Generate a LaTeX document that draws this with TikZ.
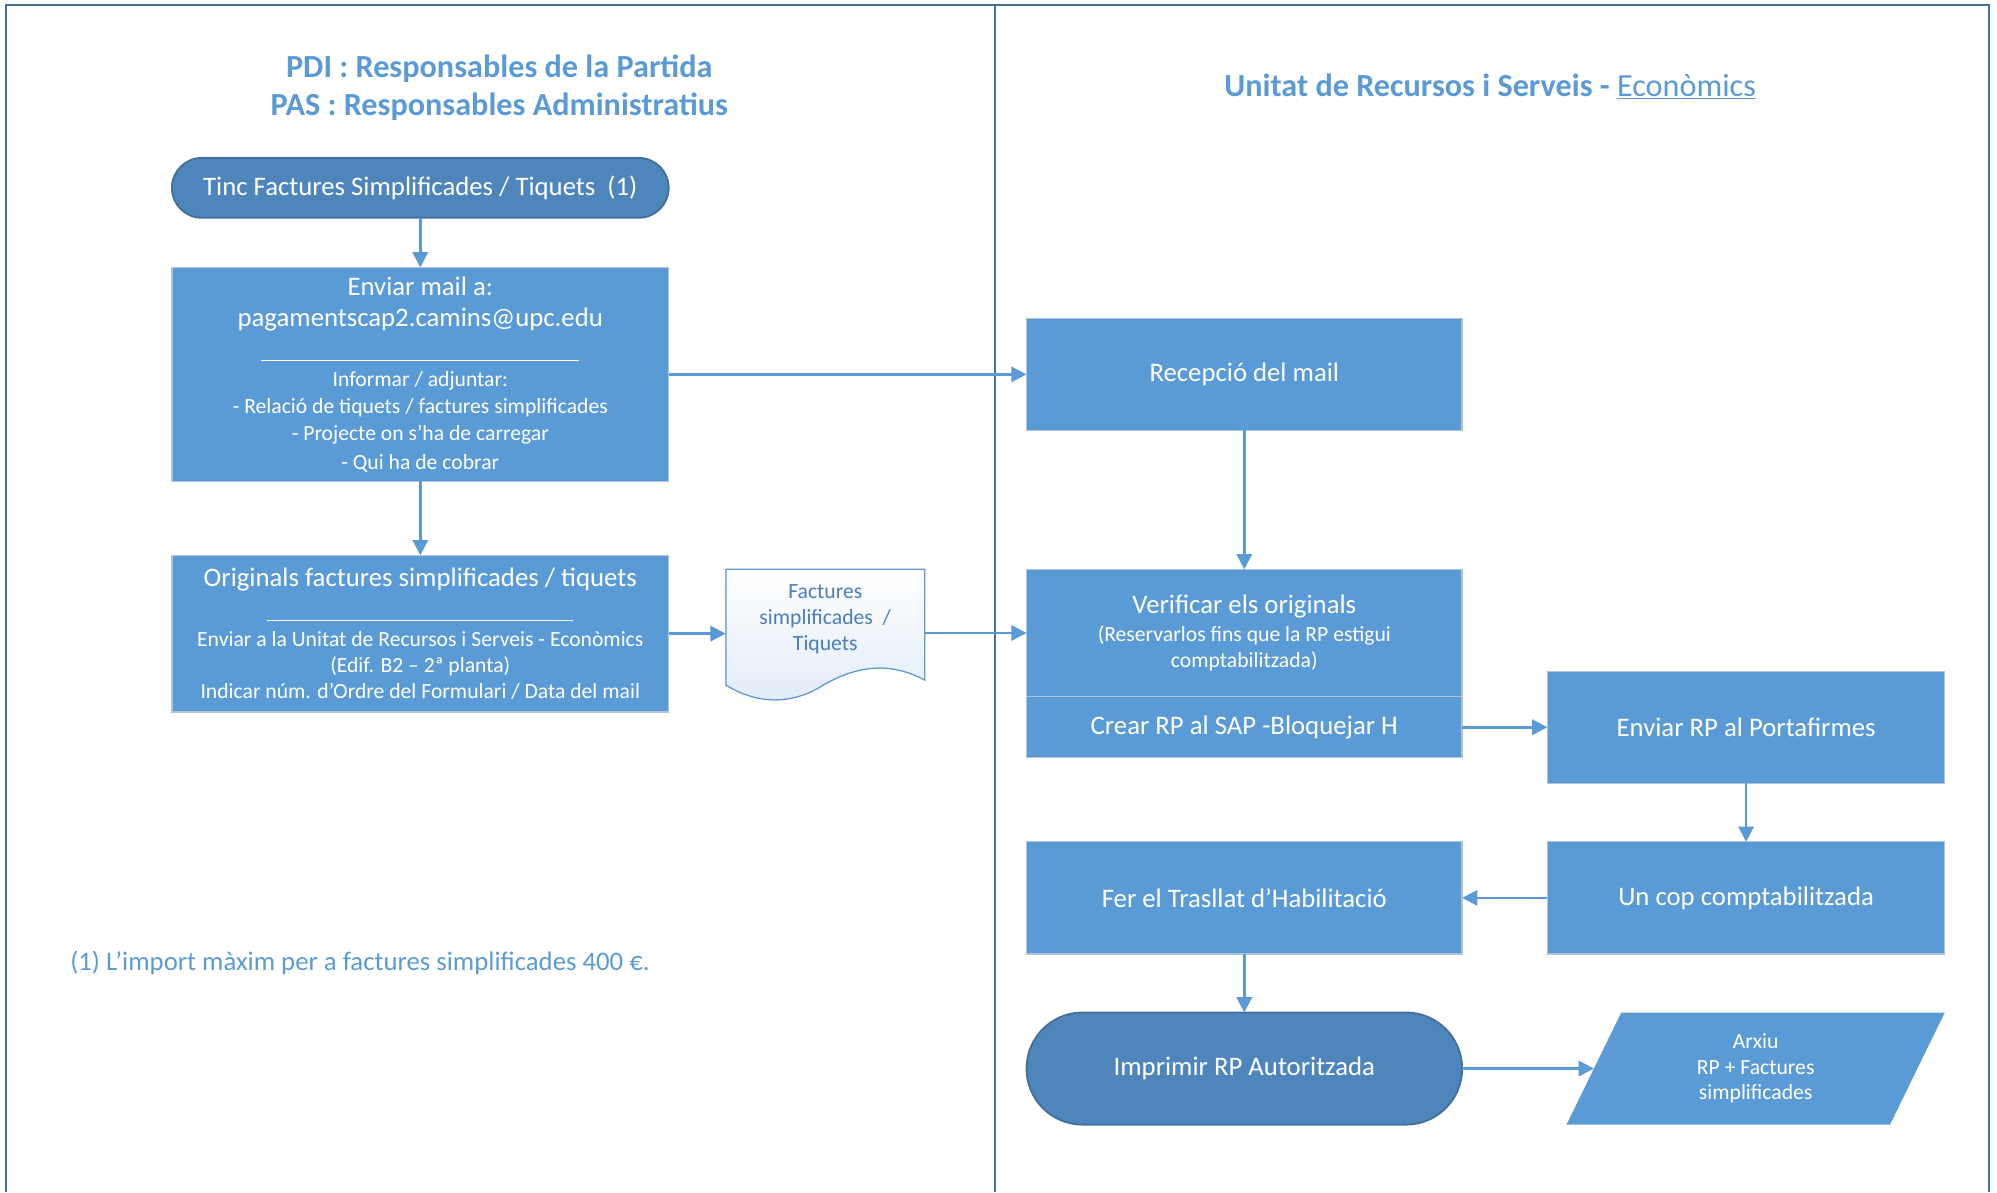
\documentclass[tikz,border=0pt]{standalone}
\usepackage{fontspec}
\setmainfont{Carlito}
\usetikzlibrary{arrows.meta}

\definecolor{boxblue}{RGB}{91,155,213}
\definecolor{termblue}{RGB}{78,134,188}
\definecolor{termedge}{RGB}{65,113,156}
\definecolor{boxedge}{RGB}{175,196,220}
\definecolor{framecol}{RGB}{65,113,156}
\definecolor{doctext}{RGB}{74,126,187}
\definecolor{docfill}{RGB}{224,235,247}

\newcommand\mainsz{\fontsize{21}{25}\selectfont}
\newcommand\smallsz{\fontsize{17}{20.5}\selectfont}
\newcommand\titlesz{\fontsize{25.3}{30}\selectfont}

\begin{document}
\begin{tikzpicture}[x=1pt,y=-1pt,
  stepbox/.style={draw=boxedge,line width=1pt,fill=boxblue,text=white,
    font=\mainsz,align=center,inner sep=0pt,outer sep=0pt},
  endbox/.style={draw=termedge,line width=1.5pt,fill=termblue,text=white,
    font=\mainsz,align=center,inner sep=0pt,outer sep=0pt},
  flow/.style={draw=boxblue,line width=2pt,-{Triangle[length=12pt,width=12pt]}},
  frame/.style={draw=framecol,line width=1.5pt},
  heading/.style={text=boxblue,font=\titlesz\bfseries,align=center}]
  \useasboundingbox (0,0) rectangle (1568,936);
  \draw[frame]
    (5,936) -- (5,4) -- (1562,4) -- (1562,936);
  \draw[frame]
    (781,4) -- (781,936);

  \node[heading] (pdi) at (392,69)
    {PDI : Responsables de la Partida\\ PAS : Responsables Administratius};
  \node[heading] (urs) at (1170,68)
    {Unitat de Recursos i Serveis - \mdseries\underline{Econòmics}};

  \node[endbox,rounded corners=23.5pt,minimum width=390pt,minimum height=47pt]
    (tinc) at (330,147.5) {Tinc Factures Simplificades / Tiquets\ \ (1)};
  \node[stepbox,minimum width=390pt,minimum height=168pt]
    (mail) at (330,294)
    {Enviar mail a:\\
     pagamentscap2.camins@upc.edu\\[2pt]
     \rule{250pt}{0.8pt}\\[-5pt]
     \smallsz Informar / adjuntar:\\[-4pt]
     \smallsz - Relació de tiquets / factures simplificades\\[-4pt]
     \smallsz - Projecte on s’ha de carregar\\[-2pt]
     \smallsz - Qui ha de cobrar};
  \node[stepbox,minimum width=390pt,minimum height=123pt]
    (orig) at (330,497.5)
    {Originals factures simplificades / tiquets\\[2pt]
     \rule{240pt}{0.8pt}\\[-5pt]
     \smallsz Enviar a la Unitat de Recursos i Serveis - Econòmics\\[-4.5pt]
     \smallsz (Edif. B2 – 2ª planta)\\[-4.5pt]
     \smallsz Indicar núm. d’Ordre del Formulari / Data del mail};

  \filldraw[draw=boxblue,line width=1pt,top color=white,bottom color=docfill]
    (570,447) -- (726,447) -- (726,534)
    .. controls (700,520) and (675,522) .. (648,537)
    .. controls (625,552) and (598,555) .. (570,538) -- cycle;
  \node[text=doctext,font=\smallsz,align=center,inner sep=0pt,
    minimum width=156pt,minimum height=80pt]
    (tiq) at (648,486) {Factures\\ simplificades\ \ /\\ Tiquets};

  \node[stepbox,minimum width=342pt,minimum height=88pt]
    (recep) at (977,294) {Recepció del mail};
  \node[stepbox,minimum width=342pt,minimum height=100pt]
    (verif) at (977,497)
    {Verificar els originals\\[-3pt]
     \smallsz (Reservarlos fins que la RP estigui\\[-4pt]
     \smallsz comptabilitzada)};
  \node[stepbox,minimum width=342pt,minimum height=48pt]
    (crear) at (977,571) {Crear RP al SAP -Bloquejar H};
  \node[stepbox,minimum width=312pt,minimum height=88pt]
    (portaf) at (1371,571) {Enviar RP al Portafirmes};
  \node[stepbox,minimum width=312pt,minimum height=88pt]
    (uncop) at (1371,705) {Un cop comptabilitzada};
  \node[stepbox,minimum width=342pt,minimum height=88pt]
    (trasl) at (977,705) {Fer el Trasllat d’Habilitació};
  \node[endbox,rounded corners=44pt,minimum width=342pt,minimum height=88pt]
    (print) at (977,839) {Imprimir RP Autoritzada};
  \fill[boxblue]
    (1273,795) -- (1527,795) -- (1484,883) -- (1230,883) -- cycle;
  \coordinate (arxin) at (1251.5,839);
  \node[text=white,font=\smallsz,align=center,inner sep=0pt]
    (arxiu) at (1378.5,839) {Arxiu\\[-0.5pt] RP + Factures\\[-0.5pt] simplificades};

  \node[anchor=west,text=boxblue,font=\mainsz,inner sep=0pt]
    (note) at (55,756) {(1) L’import màxim per a factures simplificades 400 €.};

  \draw[flow]
    (tinc)
    --
    (mail);
  \draw[flow]
    (mail)
    --
    (orig);
  \draw[flow]
    (mail)
    --
    (recep);
  \draw[flow]
    (orig)
    --
    (orig -| tiq.west);
  \draw[flow]
    (tiq.east |- verif)
    --
    (verif);
  \draw[flow]
    (recep)
    --
    (verif);
  \draw[flow]
    (crear)
    --
    (portaf);
  \draw[flow]
    (portaf)
    --
    (uncop);
  \draw[flow]
    (uncop)
    --
    (trasl);
  \draw[flow]
    (trasl)
    --
    (print);
  \draw[flow]
    (print)
    --
    (arxin);
\end{tikzpicture}
\end{document}
